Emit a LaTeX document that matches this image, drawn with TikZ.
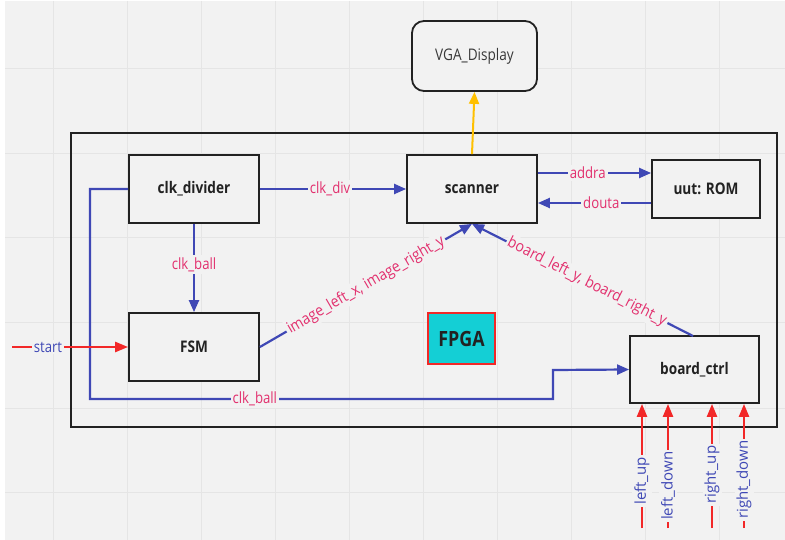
\documentclass[tikz,border=0pt]{standalone}
\usepackage{fontspec}
\setmainfont{Open Sans}[FakeStretch=0.85]
\newfontfamily\plainos{Open Sans}
\newfontfamily\slopeos{Open Sans}[FakeStretch=0.91]
\usetikzlibrary{arrows.meta,calc}
\definecolor{bg}{HTML}{F2F2F2}
\definecolor{gridc}{HTML}{E5E5E5}
\definecolor{lblue}{HTML}{3F48B5}
\definecolor{lpink}{HTML}{E2306E}
\definecolor{lred}{HTML}{F22828}
\definecolor{lyel}{HTML}{FFC000}
\definecolor{lcyan}{HTML}{14CFD5}
\definecolor{edge}{HTML}{222222}
\tikzset{
  block/.style={draw=edge, line width=1.8pt, fill=bg, inner sep=0pt, font=\fontsize{16}{19}\selectfont\bfseries, text=edge},
  bluearrow/.style={draw=lblue, line width=2.2pt, -{Triangle[length=12pt,width=10pt]}},
  redarrow/.style={draw=lred, line width=2.4pt, -{Triangle[length=13pt,width=10pt]}},
  lab/.style={fill=bg, text=lpink, inner sep=2pt, font=\fontsize{15.5}{18}\selectfont},
  slab/.style={fill=bg, text=lpink, inner sep=2pt, font=\slopeos\fontsize{15.5}{18}\selectfont},
  blab/.style={fill=bg, text=lblue, inner sep=2pt, font=\fontsize{15.5}{18}\selectfont},
  vlab/.style={fill=bg, text=lblue, inner sep=2pt, font=\plainos\fontsize{15}{18}\selectfont},
}
\begin{document}
\begin{tikzpicture}[x=1pt,y=-1pt]
\useasboundingbox (0,0) rectangle (785,540);
\fill[white] (0,0) rectangle (785,540);
\fill[bg] (5,1) rectangle (785,540);
\foreach \gx in {53.5,127.5,201.5,275.5,349.5,423.5,497.5,571.5,645.5,719.5}
  \draw[gridc, line width=0.8pt] (\gx,1) -- (\gx,540);
\foreach \gy in {68,153,237,322,408,492}
  \draw[gridc, line width=0.8pt] (5,\gy) -- (785,\gy);
% outer FPGA frame
\draw[edge, line width=1.8pt] (71,133) rectangle (777,427);
% nodes
\node[block, minimum width=125pt, minimum height=70pt, rounded corners=12pt, font=\fontsize{16}{19}\selectfont, text=edge!90] (vga) at (474.5,56) {VGA\_Display};
\node[block, minimum width=130pt, minimum height=68pt] (clkdiv) at (194,189) {clk\_divider};
\node[block, minimum width=130pt, minimum height=68pt] (scan) at (472,189) {scanner};
\node[block, minimum width=108pt, minimum height=58pt] (rom) at (706,189) {uut: ROM};
\node[block, minimum width=130pt, minimum height=68pt] (fsm) at (194,347) {FSM};
\node[block, minimum width=129pt, minimum height=67pt] (bctrl) at (694.5,369.5) {board\_ctrl};
\node[draw=lred, line width=1.5pt, fill=lcyan, minimum width=67pt, minimum height=51pt, inner sep=0pt, font=\fontsize{21}{24}\selectfont\bfseries, text=edge] (fpga) at (461.5,338.5) {FPGA};
% coordinates
\coordinate (c1) at (90,189);
\coordinate (c2) at (90,399);
\coordinate (c3) at (553,399);
\coordinate (c4) at (553,370);
\coordinate (st) at (12,347);
\coordinate (rom1) at ($(rom.west)+(0,-16)$);
\coordinate (rom2) at ($(rom.west)+(0,14)$);
\coordinate (lu) at (642,528);
\coordinate (ld) at (668,528);
\coordinate (ru) at (712,528);
\coordinate (rd) at (744,528);
\coordinate (bt) at (693,336);
% connectors
\draw[draw=lyel, line width=2pt, -{Triangle[length=12pt,width=10pt]}] (scan.north) -- (vga.south);
\draw[bluearrow] (clkdiv.east) -- node[lab, pos=0.48]{clk\_div} (scan.west);
\draw[bluearrow] (scan.east |- rom1) -- node[lab, pos=0.44]{addra} (rom1);
\draw[bluearrow] (rom2) -- node[lab, pos=0.44]{douta} (scan.east |- rom2);
\draw[bluearrow] (clkdiv.south) -- node[lab, pos=0.46]{clk\_ball} (fsm.north);
\draw[bluearrow] (clkdiv.west) -- (c1) -- (c2) -- node[lab, pos=0.356]{clk\_ball} (c3) -- (c4) -- (bctrl.west);
\draw[bluearrow] (fsm.east) -- node[slab, sloped, midway]{image\_left\_x, image\_right\_y} (scan.south);
\draw[bluearrow] (bt) -- node[slab, sloped, pos=0.48]{board\_left\_y, board\_right\_y} (scan.south);
\draw[redarrow] (st) -- node[blab, pos=0.31]{start} (fsm.west);
\draw[redarrow] (lu) -- node[vlab, rotate=90, pos=0.38]{left\_up} (lu |- bctrl.south);
\draw[redarrow] (ld) -- node[vlab, rotate=90, pos=0.34]{left\_down} (ld |- bctrl.south);
\draw[redarrow] (ru) -- node[vlab, rotate=90, pos=0.43]{right\_up} (ru |- bctrl.south);
\draw[redarrow] (rd) -- node[vlab, rotate=90, pos=0.39]{right\_down} (rd |- bctrl.south);
\end{tikzpicture}
\end{document}
